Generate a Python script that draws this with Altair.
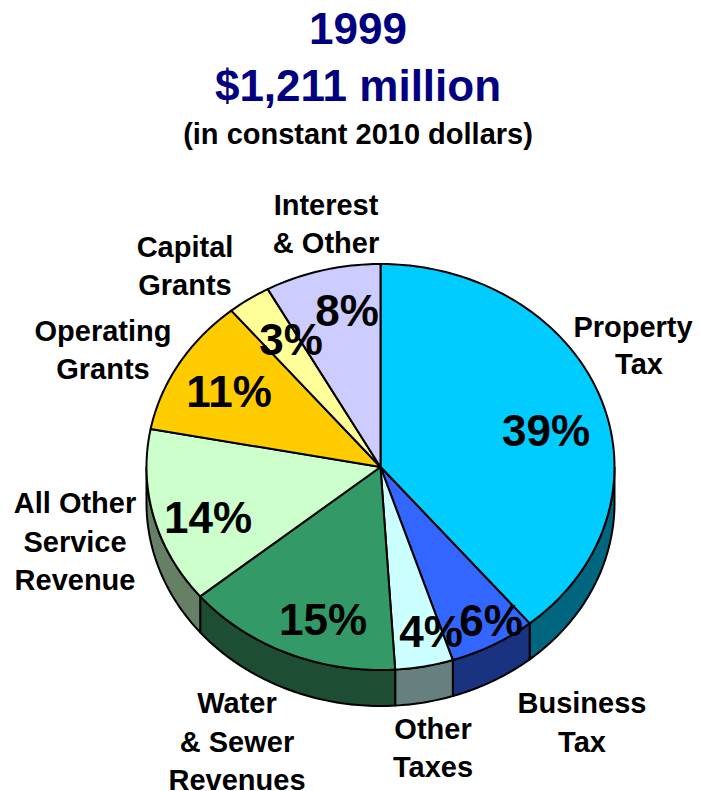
import math
import altair as alt
import pandas as pd

# Chart values
names = ["Property Tax", "Business Tax", "Other Taxes", "Water & Sewer Revenues",
         "All Other Service Revenue", "Operating Grants", "Capital Grants", "Interest & Other"]
shares = [39, 6, 4, 15, 14, 11, 3, 8]
top_colors = ["#00CCFF", "#3366FF", "#CCFFFF", "#339966", "#CCFFCC", "#FFCC00", "#FFFF99", "#CCCCFF"]
side_colors = ["#006680", "#1A3380", "#668080", "#1D4D33", "#668066", "#806600", "#808050", "#666680"]

title_lines = ["1999", "$1,211 million", "(in constant 2010 dollars)"]
title_xy = [(350, 23), (350, 80), (350, 127)]
title_sizes = [44, 44, 29]
title_colors = ["#000080", "#000080", "#000000"]

label_lines = ["Property", "Tax", "Business", "Tax", "Other", "Taxes", "Water", "& Sewer", "Revenues",
               "All Other", "Service", "Revenue", "Operating", "Grants", "Capital", "Grants", "Interest", "& Other"]
label_xy = [(625, 320), (631, 357), (574, 696), (574, 735), (425, 722), (425, 760), (229, 696), (229, 735), (229, 773),
            (67, 496), (67, 535), (67, 573), (95, 324), (95, 362), (177, 240), (177, 278), (318, 198), (318, 236)]
pct_xy = [(538, 425), (483, 615), (423, 626), (315, 614), (200, 512), (221, 386), (283, 334), (339, 305)]

W, H = 685, 783
CX, CY, RX, RY, DEPTH = 372.5, 459, 234, 203, 36

def pt(pct):
    t = 2 * math.pi * pct / 100
    return CX + RX * math.sin(t), CY - RY * math.cos(t)

top_rows, side_rows = [], []
cum = 0
for i, s in enumerate(shares):
    a, b = cum, cum + s
    cum = b
    n = max(int(s * 4), 2)
    poly = [(CX, CY)] + [pt(a + (b - a) * k / n) for k in range(n + 1)] + [(CX, CY)]
    for j, (x, y) in enumerate(poly):
        top_rows.append(dict(slice=names[i], x=x, y=y, o=j, c=top_colors[i]))
    # visible rim: only the front half of the ellipse (25%..75%)
    lo, hi = max(a, 25), min(b, 75)
    if hi > lo:
        n = max(int((hi - lo) * 4), 2)
        arc = [pt(lo + (hi - lo) * k / n) for k in range(n + 1)]
        ring = arc + [(x, y + DEPTH) for x, y in reversed(arc)] + [arc[0]]
        for j, (x, y) in enumerate(ring):
            side_rows.append(dict(slice=names[i], x=x, y=y, o=j, c=side_colors[i]))

xs = alt.X("x:Q", axis=None, scale=alt.Scale(domain=[0, W], range=[0, W]))
ys = alt.Y("y:Q", axis=None, scale=alt.Scale(domain=[0, H], range=[0, H]))

def polys(rows):
    return alt.Chart(pd.DataFrame(rows)).mark_line(filled=True, stroke="black", strokeWidth=2,
                                                   strokeJoin="round", interpolate="linear").encode(
        x=xs, y=ys, order="o:Q", detail="slice:N",
        fill=alt.Fill("c:N", legend=None, scale=None),
    )

def texts(lines, xy, sizes, colors):
    df = pd.DataFrame(dict(t=lines, x=[p[0] for p in xy], y=[p[1] for p in xy], s=sizes, c=colors))
    return alt.Chart(df).mark_text(font="Liberation Sans", fontWeight="bold", baseline="middle", align="center").encode(
        x=xs, y=ys, text="t:N",
        size=alt.Size("s:Q", legend=None, scale=None),
        color=alt.Color("c:N", legend=None, scale=None),
    )

chart = alt.layer(
    polys(side_rows),
    polys(top_rows),
    texts(title_lines, title_xy, title_sizes, title_colors),
    texts(label_lines, label_xy, [29] * len(label_lines), ["#000000"] * len(label_lines)),
    texts([f"{s}%" for s in shares], pct_xy, [44] * len(shares), ["#000000"] * len(shares)),
).properties(width=W, height=H, padding=0, autosize=alt.AutoSizeParams(type="none"),
             background="white").configure_view(stroke=None)

chart.save("out.html", embed_options={"renderer": "svg", "actions": False})
